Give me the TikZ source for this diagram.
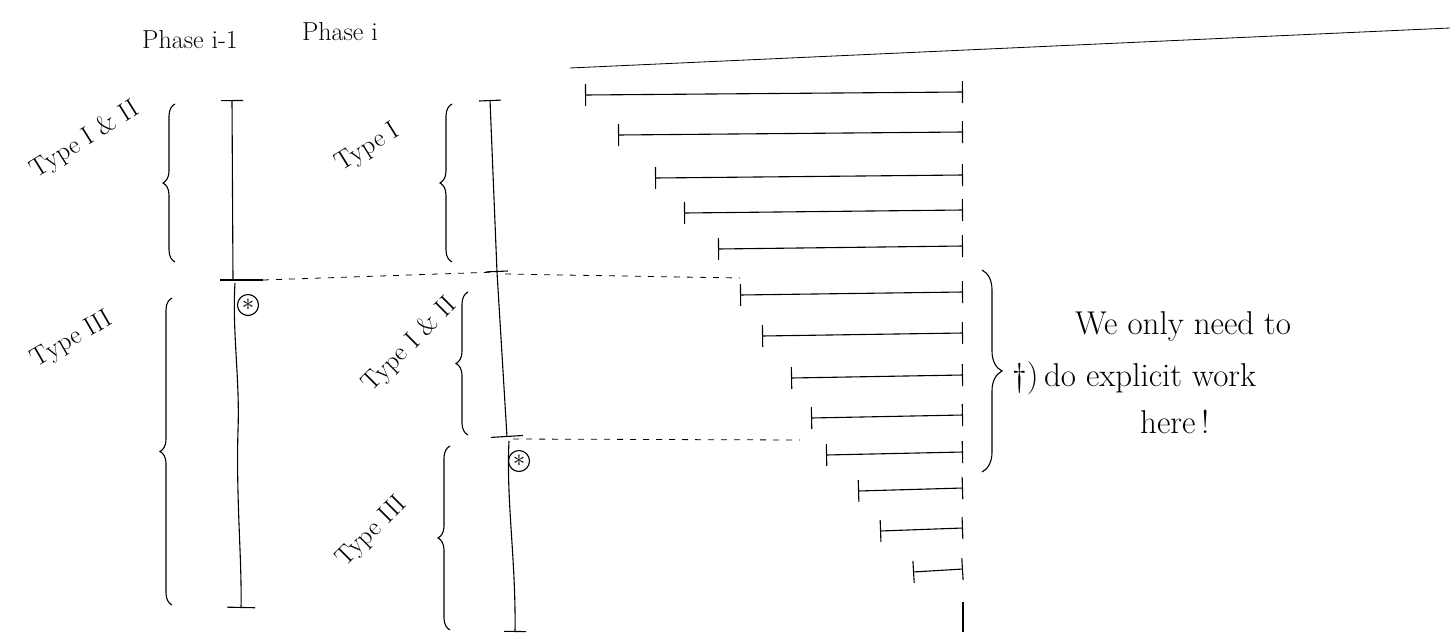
\documentclass[tikz,border=0pt]{standalone}
\usetikzlibrary{arrows.meta,decorations.pathreplacing}
\tikzset{
  ink/.style={line width=1.1pt, black},
  interval/.style={ink, {Bar[width=22pt]}-{Bar[width=22pt]}},
  guide/.style={line width=0.8pt, dash pattern=on 6pt off 7pt},
  lbrace/.style={ink, decorate, decoration={brace, amplitude=12pt}},
  head/.style={font=\fontsize{26}{28}\selectfont, inner sep=0pt},
  lbl/.style={font=\fontsize{26}{28}\selectfont, inner sep=0pt},
  note/.style={font=\fontsize{33}{35}\selectfont, inner sep=0pt, anchor=west},
  star/.style={circle, draw, line width=1.1pt, minimum size=21pt, inner sep=0pt, font=\fontsize{24}{24}\selectfont}
}
\begin{document}
\begin{tikzpicture}[x=1pt,y=-1pt]
\useasboundingbox (0,0) rectangle (1450,640);
% headings
\node[head] (ph1) at (190,40) {Phase i-1};
\node[head] (ph2) at (340,32) {Phase i};
\coordinate (hl1) at (570,68);
\coordinate (hl2) at (1450,28);
\draw[line width=0.8pt] (hl1) -- (hl2);
% Phase i-1 column
\coordinate (a1) at (232,100);
\coordinate (a2) at (233,280);
\coordinate (a2l) at (220,280);
\coordinate (a2r) at (263,280);
\coordinate (a3) at (241,608);
\draw[ink, {Bar[width=22pt]}-] (a1) -- (a2);
\draw[ink] (a2l) -- (a2r);
\draw[ink, -{Bar[width=28pt]}] (235,283) .. controls (232,330) and (240,380) .. (238,430) .. controls (236,500) and (242,560) .. (a3);
% Phase i column
\coordinate (b1) at (490,100);
\coordinate (b2) at (497,272);
\coordinate (b3) at (507,437);
\coordinate (b4) at (515,632);
\draw[ink, {Bar[width=22pt]}-{Bar[width=22pt]}] (b1) -- (b2);
\draw[ink, -{Bar[width=32pt]}] (b2) -- (b3);
\draw[ink, -{Bar[width=22pt]}] (509,441) .. controls (506,500) and (516,560) .. (b4);
% circled stars
\node[star] (s1) at (248,305) {$\ast$};
\node[star] (s2) at (519,461) {$\ast$};
% dashed guides
\coordinate (g1) at (740,278);
\coordinate (g2) at (800,440);
\draw[guide] (a2r) -- (b2);
\draw[guide] (b2) ++(8,2) -- (g1);
\draw[guide] (b3) ++(6,2) -- (g2);
% braces and labels Phase i-1
\draw[lbrace] (175,262) -- (175,104);
\node[lbl, rotate=32] (t1) at (85,140) {Type I \& II};
\draw[lbrace] (172,605) -- (172,298);
\node[lbl, rotate=30] (t2) at (72,340) {Type III};
% braces and labels Phase i
\draw[lbrace] (452,262) -- (452,104);
\node[lbl, rotate=32] (t3) at (368,148) {Type I};
\draw[lbrace] (468,435) -- (468,292);
\node[lbl, rotate=45] (t4) at (410,345) {Type I \& II};
\draw[lbrace] (450,630) -- (450,446);
\node[lbl, rotate=45] (t5) at (372,532) {Type III};
% intervals
\foreach \i/\xl/\yy in {1/585/95, 2/618/135, 3/655/178, 4/684/213, 5/718/249, 6/740/295, 7/762/336, 8/791/378, 9/811/418, 10/826/455, 11/858/491, 12/880/531, 13/913/572}{
  \coordinate (l\i) at (\xl,\yy);
  \coordinate (r\i) at (963,\yy-3);
  \draw[interval] (l\i) -- (r\i);
}
\coordinate (e1) at (963,602);
\coordinate (e2) at (963,632);
\draw[ink] (e1) -- (e2);
% right brace and note
\draw[ink, decorate, decoration={brace, amplitude=20pt}] (982,270) -- (982,472);
\node[note] (n1) at (1075,326) {We only need to};
\node[note] (n2) at (1012,378) {\dag)\,do explicit work};
\node[note] (n3) at (1140,422) {here\,!};
\end{tikzpicture}
\end{document}
